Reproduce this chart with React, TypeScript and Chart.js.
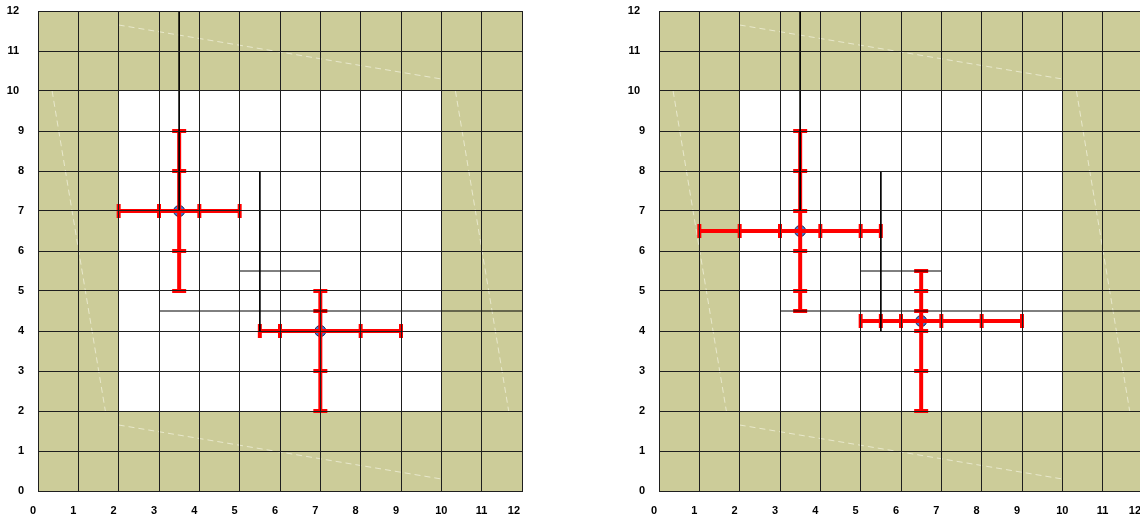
import React, { useEffect, useRef } from 'react';
import { Chart, registerables } from 'chart.js';

Chart.register(...registerables);

// ---------- data ----------
const axisMin = 0;
const axisMax = 12;
const axisStep = 1;
const innerBox = [2, 10]; // white inner square (same on both axes)

const leftPoints = [
  { x: 3.5, y: 7 },
  { x: 7, y: 4 },
];
const leftXCaps = [
  [2, 3, 4, 5],
  [5.5, 6, 8, 9],
];
const leftYCaps = [
  [5, 6, 8, 9],
  [2, 3, 4.5, 5],
];

const rightPoints = [
  { x: 3.5, y: 6.5 },
  { x: 6.5, y: 4.25 },
];
const rightXCaps = [
  [1, 2, 3, 4, 5, 5.5],
  [5, 5.5, 6, 7, 8, 9],
];
const rightYCaps = [
  [4.5, 5, 6, 7, 8, 9],
  [2, 3, 4, 4.5, 5, 5.5],
];

// thin black guide segments [x1, y1, x2, y2]
const guideLines = [
  [3.5, 12, 3.5, 7],
  [5.5, 8, 5.5, 4],
  [5, 5.5, 7, 5.5],
  [3, 4.5, 12, 4.5],
];
// faint texture strokes in the frame [x1, y1, x2, y2]
const textureLines = [
  [2, 11.65, 10, 10.3],
  [2, 1.65, 10, 0.3],
  [0.35, 10, 1.67, 2],
  [10.35, 10, 11.67, 2],
];

// ---------- styles ----------
const OLIVE = '#cccc99';
const RED = '#ff0000';
const GRID = '#1e1e1e';
const FONT = { family: "'Liberation Sans', Arial, Helvetica, sans-serif", size: 11, weight: 'bold' as const };

type Pt = { x: number; y: number };

function seg(l: number[]): Pt[] {
  return [
    { x: l[0], y: l[1] },
    { x: l[2], y: l[3] },
  ];
}

function buildDatasets(points: Pt[], xCaps: number[][], yCaps: number[][]) {
  const ds: any[] = [];
  textureLines.forEach((l) =>
    ds.push({
      data: seg(l),
      showLine: true,
      borderColor: 'rgba(236,236,212,0.85)',
      borderWidth: 1,
      borderDash: [6, 4],
      pointRadius: 0,
      pointHoverRadius: 0,
      order: 50,
    })
  );
  ds.push({
    data: points,
    pointRadius: 5.5,
    pointHoverRadius: 5.5,
    pointBackgroundColor: '#3f7fd8',
    pointBorderColor: '#1a2550',
    pointBorderWidth: 1,
    order: 40,
  });
  points.forEach((p, i) => {
    const xs = xCaps[i];
    const ys = yCaps[i];
    ds.push({
      data: [
        { x: Math.min(...xs), y: p.y },
        { x: Math.max(...xs), y: p.y },
      ],
      showLine: true,
      borderColor: RED,
      borderWidth: 4,
      pointRadius: 0,
      pointHoverRadius: 0,
      order: 30,
    });
    ds.push({
      data: [
        { x: p.x, y: Math.min(...ys) },
        { x: p.x, y: Math.max(...ys) },
      ],
      showLine: true,
      borderColor: RED,
      borderWidth: 4,
      pointRadius: 0,
      pointHoverRadius: 0,
      order: 30,
    });
    ds.push({
      data: xs.map((x) => ({ x, y: p.y })),
      pointStyle: 'line',
      pointRotation: 90,
      pointRadius: 7,
      pointHoverRadius: 7,
      pointBorderWidth: 4,
      pointBorderColor: RED,
      pointBackgroundColor: RED,
      order: 20,
    });
    ds.push({
      data: ys.map((y) => ({ x: p.x, y })),
      pointStyle: 'line',
      pointRotation: 0,
      pointRadius: 7,
      pointHoverRadius: 7,
      pointBorderWidth: 4,
      pointBorderColor: RED,
      pointBackgroundColor: RED,
      order: 20,
    });
  });
  guideLines.forEach((l) =>
    ds.push({
      data: seg(l),
      showLine: true,
      borderColor: '#000',
      borderWidth: 1,
      pointRadius: 0,
      pointHoverRadius: 0,
      order: 10,
    })
  );
  return ds;
}

const bgPlugin = {
  id: 'frameBg',
  beforeDraw(chart: any) {
    const { ctx, chartArea: a, scales } = chart;
    const x = scales.x;
    const y = scales.y;
    ctx.save();
    ctx.fillStyle = OLIVE;
    ctx.fillRect(a.left, a.top, a.right - a.left, a.bottom - a.top);
    const x0 = x.getPixelForValue(innerBox[0]);
    const x1 = x.getPixelForValue(innerBox[1]);
    const y0 = y.getPixelForValue(innerBox[1]);
    const y1 = y.getPixelForValue(innerBox[0]);
    ctx.fillStyle = '#ffffff';
    ctx.fillRect(x0, y0, x1 - x0, y1 - y0);
    ctx.restore();
  },
};

const W = 621;
const H = 519;

function CrossChart({ points, xCaps, yCaps, left }: { points: Pt[]; xCaps: number[][]; yCaps: number[][]; left: number }) {
  const ref = useRef<HTMLCanvasElement>(null);
  useEffect(() => {
    if (!ref.current) return;
    const baseTicks = {
      stepSize: axisStep,
      autoSkip: false,
      maxRotation: 0,
      minRotation: 0,
      color: '#000',
      font: FONT,
    };
    const chart = new Chart(ref.current, {
      type: 'scatter',
      data: { datasets: buildDatasets(points, xCaps, yCaps) },
      plugins: [bgPlugin],
      options: {
        animation: false,
        responsive: false,
        events: [],
        layout: { padding: { top: 7, right: 99, left: 0, bottom: 0 } },
        plugins: { legend: { display: false }, tooltip: { enabled: false } },
        scales: {
          x: {
            type: 'linear',
            position: 'bottom',
            min: axisMin,
            max: axisMax,
            afterFit: (s: any) => {
              s.height = 28;
            },
            grid: { color: GRID, lineWidth: 1, drawTicks: true, tickLength: 13, tickColor: 'rgba(0,0,0,0)', z: 1 },
            border: { display: true, color: GRID, width: 1, z: 1 },
            ticks: {
              ...baseTicks,
              align: 'end',
              labelOffset: -2,
              padding: 0,
              callback: (v: any) => (v >= 10 && v < 12 ? '' : String(v)),
            },
          },
          x2: {
            type: 'linear',
            axis: 'x',
            position: { y: 0 },
            min: axisMin,
            max: axisMax,
            grid: { display: false, drawTicks: false },
            border: { display: false },
            ticks: {
              ...baseTicks,
              padding: 13,
              callback: (v: any) => (v >= 10 && v < 12 ? String(v) : ''),
            },
          },
          y: {
            type: 'linear',
            position: 'left',
            min: axisMin,
            max: axisMax,
            afterFit: (s: any) => {
              s.width = 38;
            },
            grid: { color: GRID, lineWidth: 1, drawTicks: true, tickLength: 14, tickColor: 'rgba(0,0,0,0)', z: 1 },
            border: { display: true, color: GRID, width: 1, z: 1 },
            ticks: {
              ...baseTicks,
              padding: 0,
              callback: (v: any) => (v < 10 ? String(v) : ''),
            },
          },
          y2: {
            type: 'linear',
            axis: 'y',
            position: { x: -0.47 },
            min: axisMin,
            max: axisMax,
            grid: { display: false, drawTicks: false },
            border: { display: false },
            ticks: {
              ...baseTicks,
              padding: 0,
              callback: (v: any) => (v >= 10 ? String(v) : ''),
            },
          },
        },
      } as any,
    });
    return () => chart.destroy();
  }, [points, xCaps, yCaps]);
  return (
    <canvas
      ref={ref}
      width={W}
      height={H}
      style={{ position: 'absolute', left, top: 0, width: W, height: H }}
    />
  );
}

export default function App() {
  return (
    <div
      style={{
        position: 'fixed',
        left: 0,
        top: 0,
        width: 1140,
        height: 519,
        overflow: 'hidden',
        background: '#fff',
      }}
    >
      <CrossChart points={leftPoints} xCaps={leftXCaps} yCaps={leftYCaps} left={0} />
      <CrossChart points={rightPoints} xCaps={rightXCaps} yCaps={rightYCaps} left={621} />
    </div>
  );
}
